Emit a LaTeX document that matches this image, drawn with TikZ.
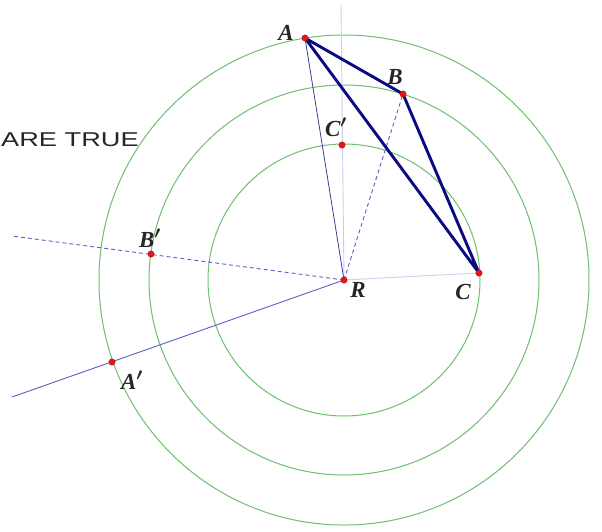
\documentclass[tikz,border=0pt]{standalone}
\usepackage{fontspec}
\setmainfont{Liberation Serif}
\newfontfamily\capsans{Liberation Sans}
\usetikzlibrary{calc}

\definecolor{ringgreen}{RGB}{110,190,110}
\definecolor{trinavy}{RGB}{10,10,130}
\definecolor{raysblue}{RGB}{95,95,195}
\definecolor{faintblue}{RGB}{205,205,240}
\definecolor{dotred}{RGB}{235,20,20}

\begin{document}
\begin{tikzpicture}[
  x=1pt,y=-1pt,
  ring/.style ={draw=ringgreen,line width=1pt},
  tri/.style  ={draw=trinavy,line width=2.9pt,line join=round},
  ray/.style  ={draw=raysblue,line width=0.9pt},
  dray/.style ={draw=raysblue,line width=0.9pt,dash pattern=on 4pt off 3pt},
  faint/.style={draw=faintblue,line width=0.9pt},
  dot/.style  ={circle,fill=dotred,draw=dotred!60!black,line width=0.3pt,
                inner sep=0pt,minimum size=6.5pt},
  lbl/.style  ={font=\fontsize{23}{25}\selectfont\bfseries\itshape\boldmath,
                text=black!85,inner sep=1pt}]

\useasboundingbox (0,0) rectangle (602,531);

% ---------- points ----------
\coordinate (R)  at (344,280);
\coordinate (A)  at (305,38);
\coordinate (B)  at (403,94);
\coordinate (C)  at (479,273);
\coordinate (Cp) at (342,145);
\coordinate (Bp) at (151,254);
\coordinate (Ap) at (112,362);
\coordinate (top)  at (341,5);
\coordinate (bend) at (12,236);
\coordinate (aend) at (12,397);

% ---------- circles about R ----------
\draw[ring] (R) circle[radius=136];
\draw[ring] (R) circle[radius=195];
\draw[ring] (R) circle[radius=245];

% ---------- rays ----------
\draw[faint] (R) -- (top);
\draw[faint] (R) -- (C);
\draw[dray]  (R) -- (bend);
\draw[dray]  (R) -- (B);
\draw[ray]   (R) -- (aend);
\draw[ray,draw=trinavy!80,line width=0.8pt] (R) -- (A);

% ---------- triangle ----------
\draw[tri] (A) -- (B) -- (C) -- cycle;

% ---------- dots ----------
\foreach \p in {R,A,B,C,Cp,Bp,Ap}
  \node[dot] (d\p) at (\p) {};

% ---------- labels ----------
\node[lbl] (lA)  at (286,33)  {A};
\node[lbl] (lB)  at (395,77)  {B};
\node[lbl] (lC)  at (463,292) {C};
\node[lbl] (lR)  at (358,290) {R};
\node[lbl] (lCp) at (336,127) {C$'$};
\node[lbl] (lBp) at (150,238) {B$'$};
\node[lbl] (lAp) at (132,380) {A$'$};

\node[anchor=east,inner sep=0pt,xscale=1.36,text=black!85,
      font=\capsans\fontsize{20}{22}\selectfont] (note) at (139,140) {ARE TRUE};

\end{tikzpicture}
\end{document}
